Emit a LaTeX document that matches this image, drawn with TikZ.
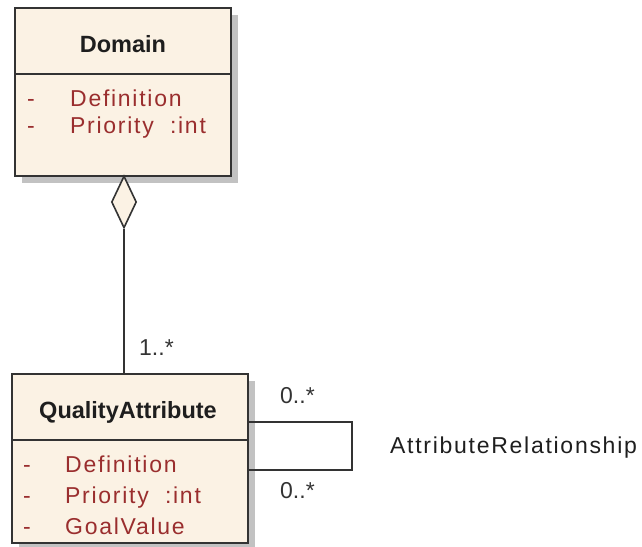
\documentclass[tikz,border=0pt]{standalone}
\usepackage{fontspec}
\setmainfont{Liberation Sans}
\newfontfamily\spacedfont[LetterSpace=7.5]{Liberation Sans}
\usetikzlibrary{shapes.geometric}
\definecolor{umlfill}{HTML}{FBF2E4}
\definecolor{umlline}{HTML}{333333}
\definecolor{attrred}{HTML}{9A2E2E}
\definecolor{shadowgray}{HTML}{C2C2C2}
\definecolor{titlecol}{HTML}{1E1E1E}
\tikzset{
  classbox/.style={draw=umlline, line width=1.6pt, fill=umlfill, rectangle, inner sep=0pt},
  shadowbox/.style={fill=shadowgray, draw=none, rectangle, inner sep=0pt},
  titletext/.style={inner sep=0pt, anchor=base, text=titlecol, font=\fontsize{23.5}{28}\selectfont\bfseries},
  attrtext/.style={inner sep=0pt, anchor=base west, text=attrred, font=\spacedfont\fontsize{23}{28}\selectfont},
  multext/.style={inner sep=0pt, anchor=base west, text=umlline, font=\fontsize{23}{28}\selectfont},
  reltext/.style={inner sep=0pt, anchor=base west, text=titlecol, font=\spacedfont\fontsize{23}{28}\selectfont},
  conn/.style={draw=umlline, line width=1.6pt},
  sepline/.style={draw=umlline, line width=1.6pt}
}
\begin{document}
\begin{tikzpicture}[x=1pt, y=-1pt]
\useasboundingbox (0,0) rectangle (642,546);
% Domain class
\node[shadowbox, minimum width=216pt, minimum height=168pt] (dshadow) at (130,99) {};
\node[classbox, minimum width=216pt, minimum height=168pt] (domain) at (123,92) {};
\draw[sepline] (15,74) -- (231,74);
\node[titletext] (dtitle) at (123,52) {Domain};
\node[attrtext] (dm1) at (27,106) {-};
\node[attrtext] (da1) at (70,106) {Definition};
\node[attrtext] (dm2) at (27,133) {-};
\node[attrtext] (da2) at (70,133) {Priority\ \ :int};
% QualityAttribute class
\node[shadowbox, minimum width=236pt, minimum height=169pt] (qshadow) at (137,465.5) {};
\node[classbox, minimum width=236pt, minimum height=169pt] (qa) at (130,458.5) {};
\draw[sepline] (12,440) -- (248,440);
\node[titletext] (qtitle) at (128,418) {QualityAttribute};
\node[attrtext] (qm1) at (23,472) {-};
\node[attrtext] (qa1) at (65,472) {Definition};
\node[attrtext] (qm2) at (23,503) {-};
\node[attrtext] (qa2) at (65,503) {Priority\ \ :int};
\node[attrtext] (qm3) at (23,534) {-};
\node[attrtext] (qa3) at (65,534) {GoalValue};
% aggregation
\node[diamond, draw=umlline, line width=1.6pt, fill=umlfill, inner sep=0pt,
      minimum width=25pt, minimum height=52pt] (dia) at (124,202) {};
\draw[conn] (dia.south) -- (dia.south |- qa.north);
\node[multext] (m1) at (139,355) {1..*};
% self association
\coordinate (r1) at (352,422);
\coordinate (r2) at (352,470);
\draw[conn] (qa.east |- r1) -- (r1) -- (r2) -- (qa.east |- r2);
\node[multext] (m2) at (280,403) {0..*};
\node[multext] (m3) at (280,498) {0..*};
\node[reltext] (rel) at (390,453) {AttributeRelationship};
\end{tikzpicture}
\end{document}
